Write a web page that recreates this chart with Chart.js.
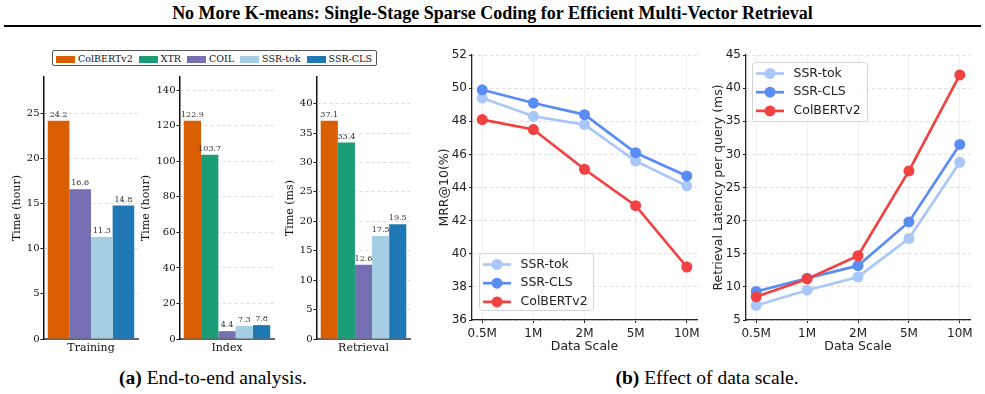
<!DOCTYPE html>
<html>
<head>
<meta charset="utf-8">
<script src="https://cdn.jsdelivr.net/npm/chart.js@4.4.1/dist/chart.umd.min.js"></script>
<style>
  body { margin: 0; background: #fff; }
  #page { position: relative; width: 985px; height: 394px; overflow: hidden; }
  .box { position: absolute; }
  #title { position: absolute; left: 0; top: 3px; width: 985px; text-align: center;
           font: bold 18px "Liberation Serif", serif; color: #000; }
  #rule { position: absolute; left: 4px; top: 25px; width: 977px; height: 2px; background: #000; }
  #barLegend { position: absolute; left: 52px; top: 50px; height: 16px; box-sizing: border-box;
               padding: 0 4px 0 3px; border: 1px solid #555; border-radius: 2px; display: flex; align-items: center;
               gap: 6px; font: 9.5px "DejaVu Serif", serif; color: #111; white-space: nowrap; }
  #barLegend div { white-space: nowrap; flex: none; }
  #barLegend span.patch { display: inline-block; width: 19px; height: 7px; margin-right: 3px; vertical-align: -1px; }
  .caption { position: absolute; top: 367px; width: 400px; text-align: center;
             font: 19.5px "Liberation Serif", serif; color: #000; }
</style>
</head>
<body>
<div id="page">
  <div id="title">No More K-means: Single-Stage Sparse Coding for Efficient Multi-Vector Retrieval</div>
  <div id="rule"></div>
  <div id="barLegend"></div>

  <div class="box" style="left:0;top:70px;width:145px;height:294px"><canvas id="trainChart"></canvas></div>
  <div class="box" style="left:135px;top:70px;width:147px;height:294px"><canvas id="indexChart"></canvas></div>
  <div class="box" style="left:275px;top:70px;width:142px;height:294px"><canvas id="retrievalChart"></canvas></div>

  <div class="box" style="left:425px;top:45px;width:280px;height:315px"><canvas id="mrrChart"></canvas></div>
  <div class="box" style="left:700px;top:45px;width:280px;height:315px"><canvas id="latencyChart"></canvas></div>

  <div class="caption" style="left:13px"><b>(a)</b> End-to-end analysis.</div>
  <div class="caption" style="left:507px"><b>(b)</b> Effect of data scale.</div>
</div>

<script>
// ---- data ----
const methods = ["ColBERTv2", "XTR", "COIL", "SSR-tok", "SSR-CLS"];
const methodColors = ["#d95f02", "#1b9e77", "#7570b3", "#a6cee3", "#1f78b4"];
const trainingHours = [24.2, null, 16.6, 11.3, 14.8];
const indexHours = [122.9, 103.7, 4.4, 7.3, 7.8];
const retrievalMs = [37.1, 33.4, 12.6, 17.5, 19.5];

const dataScales = ["0.5M", "1M", "2M", "5M", "10M"];
const lineNames = ["SSR-tok", "SSR-CLS", "ColBERTv2"];
const lineColors = ["#aac7fa", "#5a8cf5", "#f24141"];
const mrrTok = [49.4, 48.3, 47.8, 45.6, 44.1];
const mrrCls = [49.9, 49.1, 48.4, 46.1, 44.7];
const mrrColbert = [48.1, 47.5, 45.1, 42.9, 39.2];
const latTok = [7.2, 9.5, 11.5, 17.3, 28.8];
const latCls = [9.3, 11.3, 13.2, 19.8, 31.5];
const latColbert = [8.5, 11.2, 14.7, 27.5, 42.0];

const serif = size => ({ family: "'DejaVu Serif', serif", size: size });
const sans = size => ({ family: "'DejaVu Sans', sans-serif", size: size });

// legend for the bar panels
const legendEl = document.getElementById("barLegend");
methods.forEach((m, i) => {
  const item = document.createElement("div");
  item.innerHTML = '<span class="patch" style="background:' + methodColors[i] + '"></span>' + m;
  legendEl.appendChild(item);
});

// value labels above bars
const barValues = {
  id: "barValues",
  afterDatasetsDraw(chart) {
    const ctx = chart.ctx;
    ctx.save();
    ctx.font = "8px 'DejaVu Serif'";
    ctx.fillStyle = "#333";
    ctx.textAlign = "center";
    ctx.textBaseline = "bottom";
    chart.data.datasets.forEach((ds, i) => {
      chart.getDatasetMeta(i).data.forEach((bar, j) => {
        ctx.fillText(ds.data[j].toFixed(1), bar.x, bar.y - 2);
      });
    });
    ctx.restore();
  }
};

// matplotlib-like legend box inside the plot
const boxLegend = {
  id: "boxLegend",
  afterDraw(chart, args, opts) {
    const a = chart.chartArea;
    const left = a.left + opts.dx;
    const top = opts.corner === "bl" ? a.bottom - opts.dy - opts.h : a.top + opts.dy;
    const ctx = chart.ctx;
    ctx.save();
    ctx.fillStyle = "rgba(255,255,255,0.85)";
    ctx.strokeStyle = "#d4d4d4";
    ctx.lineWidth = 1;
    ctx.beginPath();
    if (ctx.roundRect) ctx.roundRect(left + 0.5, top + 0.5, opts.w, opts.h, 3);
    else ctx.rect(left + 0.5, top + 0.5, opts.w, opts.h);
    ctx.fill();
    ctx.stroke();
    chart.data.datasets.forEach((ds, i) => {
      const y = top + 11.5 + i * 18.7;
      ctx.strokeStyle = ds.borderColor;
      ctx.lineWidth = ds.borderWidth;
      ctx.beginPath();
      ctx.moveTo(left + 4, y);
      ctx.lineTo(left + 32, y);
      ctx.stroke();
      ctx.fillStyle = ds.borderColor;
      ctx.beginPath();
      ctx.arc(left + 18, y, 5.5, 0, Math.PI * 2);
      ctx.fill();
      ctx.fillStyle = "#222";
      ctx.font = "12.5px 'DejaVu Sans'";
      ctx.textBaseline = "middle";
      ctx.fillText(ds.label, left + 41.5, y);
    });
    ctx.restore();
  }
};

function barChart(id, label, values, yTitle, step, axisW, titlePad, rightPad) {
  const datasets = [];
  values.forEach((v, i) => {
    if (v === null) return;
    datasets.push({
      label: methods[i],
      data: [v],
      backgroundColor: methodColors[i],
      categoryPercentage: 0.92,
      barPercentage: 1
    });
  });
  const top = Math.max(...values.filter(v => v !== null)) * 1.2;

  return new Chart(document.getElementById(id), {
    type: "bar",
    data: { labels: [label], datasets: datasets },
    options: {
      responsive: true,
      maintainAspectRatio: false,
      animation: false,
      layout: { padding: { top: 7, right: rightPad, left: 0, bottom: 0 } },
      plugins: { legend: { display: false }, tooltip: { enabled: false } },
      scales: {
        x: {
          grid: { display: false, drawTicks: false },
          border: { color: "#666", width: 2 },
          ticks: { font: serif(11), color: "#111", padding: 3 },
          afterFit: s => { s.height = 25; s.paddingLeft = 0; s.paddingRight = 0; }
        },
        y: {
          min: 0,
          max: top,
          ticks: { stepSize: step, includeBounds: false, font: serif(10), color: "#111", padding: 1 },
          grid: { color: "#dcdcdc", tickColor: "#111", tickLength: 3.5, tickBorderDash: [] },
          border: { color: "#111", width: 1.5, dash: [3, 3] },
          title: { display: true, text: yTitle, font: serif(11), color: "#111", padding: { top: titlePad, bottom: 0 } },
          afterFit: s => { s.width = axisW; }
        }
      }
    },
    plugins: [barValues]
  });
}

function lineChart(id, series, yMin, yMax, yStep, yTitle, axisW, titlePad, rightPad, legendOpts) {
  const datasets = series.map((vals, i) => ({
    label: lineNames[i],
    data: vals.map((v, k) => ({ x: k, y: v })),
    borderColor: lineColors[i],
    backgroundColor: lineColors[i],
    borderWidth: 2.7,
    pointRadius: 5.5,
    pointHoverRadius: 5.5,
    pointBorderWidth: 0,
    order: series.length - i
  }));

  return new Chart(document.getElementById(id), {
    type: "line",
    data: { datasets: datasets },
    options: {
      responsive: true,
      maintainAspectRatio: false,
      animation: false,
      layout: { padding: { top: 10, right: rightPad, left: 0, bottom: 0 } },
      plugins: { legend: { display: false }, tooltip: { enabled: false }, boxLegend: legendOpts },
      scales: {
        x: {
          type: "linear",
          min: -0.2,
          max: 4.2,
          ticks: {
            stepSize: 1, includeBounds: false, maxRotation: 0,
            callback: v => dataScales[v],
            font: sans(12), color: "#222", padding: 4
          },
          grid: { color: "#efefef", tickColor: "#222", tickLength: 3 },
          border: { color: "#222", width: 1.3 },
          title: { display: true, text: "Data Scale", font: sans(12.5), color: "#222", padding: { top: 0, bottom: 6 } },
          afterFit: s => { s.height = 40; s.paddingLeft = 0; s.paddingRight = 0; }
        },
        y: {
          min: yMin,
          max: yMax,
          ticks: { stepSize: yStep, includeBounds: false, font: sans(12), color: "#222", padding: 2 },
          grid: { color: "#dddddd", tickColor: "#222", tickLength: 3, tickBorderDash: [] },
          border: { color: "#222", width: 1.3, dash: [3, 3] },
          title: { display: true, text: yTitle, font: sans(12.5), color: "#222", padding: { top: titlePad, bottom: 0 } },
          afterFit: s => { s.width = axisW; }
        }
      }
    },
    plugins: [boxLegend]
  });
}

barChart("trainChart", "Training", trainingHours, "Time (hour)", 5, 44, 11, 7);
barChart("indexChart", "Index", indexHours, "Time (hour)", 20, 45, 4.4, 8);
barChart("retrievalChart", "Retrieval", retrievalMs, "Time (ms)", 5, 42, 8.4, 7);

lineChart("mrrChart", [mrrTok, mrrCls, mrrColbert], 36, 52, 2, "MRR@10(%)", 47, 12.5, 8,
  { corner: "bl", dx: 7, dy: 10, w: 114, h: 57 });
lineChart("latencyChart", [latTok, latCls, latColbert], 5, 45, 5, "Retrieval Latency per query (ms)", 46, 11.5, 10,
  { corner: "tl", dx: 6, dy: 7, w: 115, h: 59 });
</script>
</body>
</html>
